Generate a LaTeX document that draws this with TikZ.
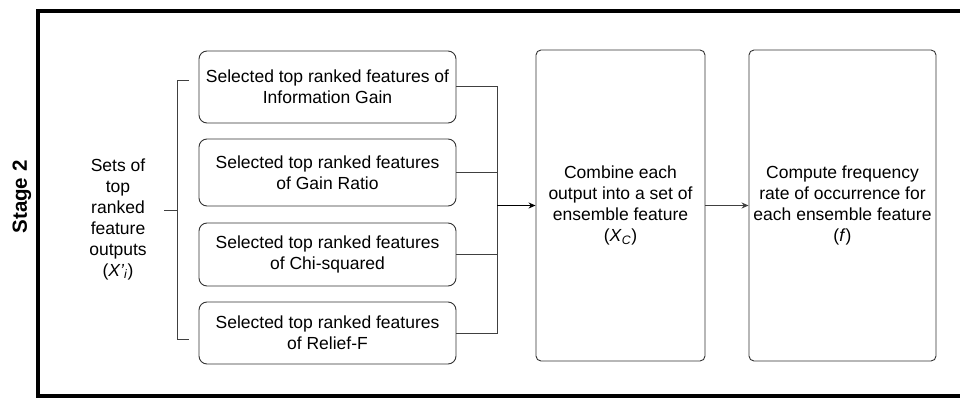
\documentclass[tikz,border=0pt]{standalone}
\usepackage{fontspec}
\setmainfont{Liberation Sans}
\usetikzlibrary{arrows.meta}
\begin{document}
\begin{tikzpicture}[x=1pt,y=-1pt,
  txt/.style={align=center, inner sep=0pt, font=\fontsize{17.5}{21}\selectfont},
  box/.style={txt, draw=black!80, line width=0.9pt, rounded corners=8pt, minimum width=257pt},
  tall/.style={txt, draw=black!80, line width=0.9pt, rounded corners=5pt, minimum height=311pt},
  conn/.style={draw=black!75, line width=1pt},
  arr/.style={conn, -{Stealth[length=7pt,width=6pt]}},
  ]
\useasboundingbox (0,0) rectangle (960,401);
\fill[white] (0,0) rectangle (960,401);
\draw[line width=4pt] (962,11) -- (38,11) -- (38,396) -- (962,396);

\node[rotate=90, font=\fontsize{20.5}{24}\selectfont\bfseries] (stage) at (22,197) {Stage 2};

\node[txt] (sets) at (118,219) {Sets of\\top\\ranked\\feature\\outputs\\(\textit{X'}\textsubscript{\textit{i}})};

\node[box, minimum height=72pt] (b1) at (327.5,87) {Selected top ranked features of\\Information Gain};
\node[box, minimum height=67pt] (b2) at (327.5,172.5) {Selected top ranked features\\of Gain Ratio};
\node[box, minimum height=63pt] (b3) at (327.5,254.5) {Selected top ranked features\\of Chi-squared};
\node[box, minimum height=62pt] (b4) at (327.5,333) {Selected top ranked features\\of Relief-F};

\node[tall, minimum width=169pt] (comb) at (620.5,205.5) {Combine each\\output into a set of\\ensemble feature\\(\textit{X}\textsubscript{\textit{C}})};
\node[tall, minimum width=187pt] (comp) at (842.5,205.5) {Compute frequency\\rate of occurrence for\\each ensemble feature\\(\textit{f})};

% bracket
\coordinate (bt) at (189,81);
\coordinate (bb) at (189,339);
\coordinate (bx) at (177,210);
\coordinate (bm) at (164,210);
\draw[conn] (bt) -- (bt -| bx) -- (bb -| bx) -- (bb);
\draw[conn] (bm) -- (bx);

% bus
\coordinate (j) at (497,205.5);
\draw[conn] (b1.east) -- (b1.east -| j) -- (b4.east -| j) -- (b4.east);
\draw[conn] (b2.east) -- (b2.east -| j);
\draw[conn] (b3.east) -- (b3.east -| j);
\draw[arr, line width=1.5pt, draw=black] (j) -- (comb.west);
\draw[arr] (comb.east) -- (comp.west);
\end{tikzpicture}
\end{document}
